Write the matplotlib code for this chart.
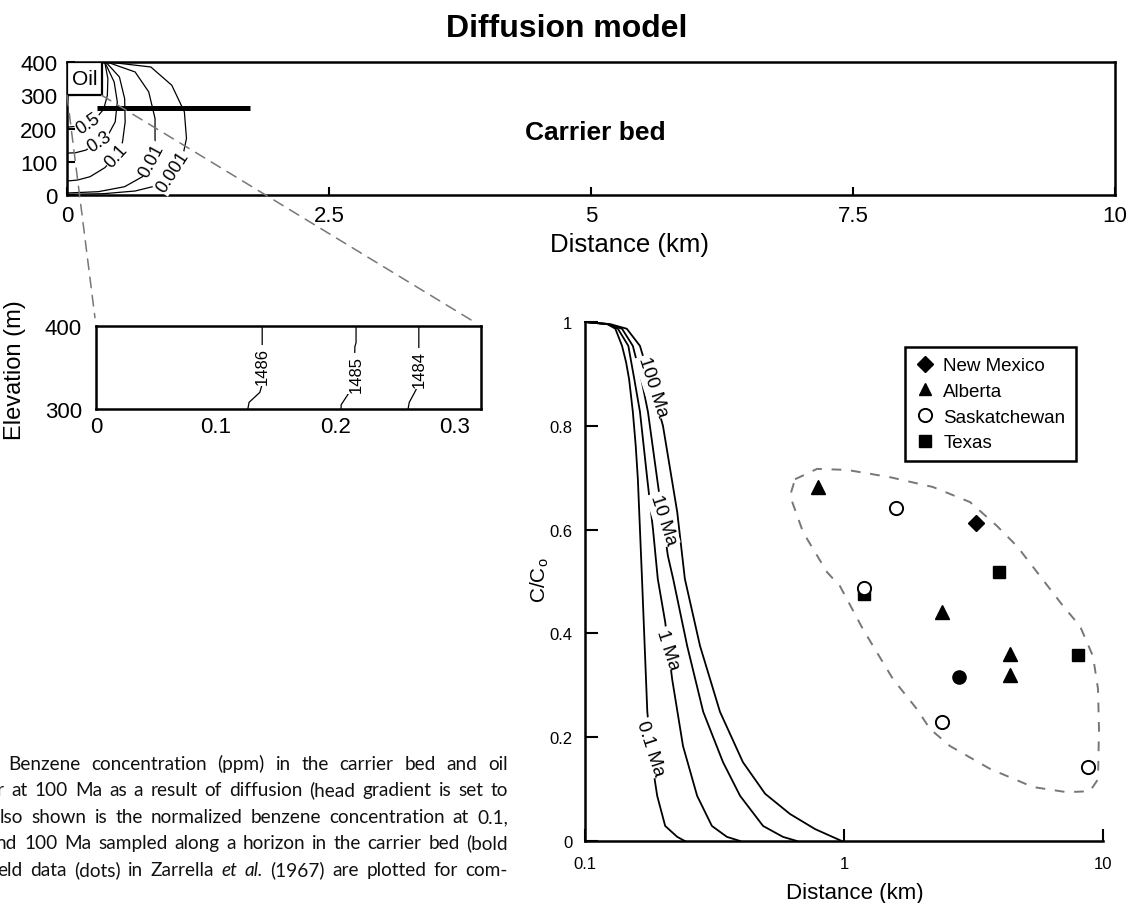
import matplotlib
matplotlib.use('Agg')
import matplotlib.pyplot as plt
from matplotlib.patches import Rectangle, ConnectionPatch, Polygon
from matplotlib.lines import Line2D
from matplotlib.ticker import NullLocator
from matplotlib.transforms import IdentityTransform

plt.rcParams['font.family'] = ['Liberation Sans', 'DejaVu Sans']
plt.rcParams['mathtext.fontset'] = 'custom'
plt.rcParams['mathtext.rm'] = 'Liberation Sans'

W, H = 1133, 904

#%% carrier bed section (distance km, elevation m)
dist_ticks = [0, 2.5, 5, 7.5, 10]
dist_ticklabels = ['0', '2.5', '5', '7.5', '10']
elev_ticks = [0, 100, 200, 300, 400]
oil_w = 0.33
horizon_x = [0.29, 1.75]
horizon_z = [262, 262]

c05_x = [0.36, 0.39, 0.385, 0.35, 0.28, 0.20, 0.10, 0.0]
c05_z = [400, 350, 300, 258, 232, 217, 207, 204]
c03_x = [0.36, 0.45, 0.48, 0.46, 0.40, 0.305, 0.18, 0.08, 0.0]
c03_z = [400, 340, 280, 220, 185, 160, 135, 127, 126]
c01_x = [0.37, 0.50, 0.55, 0.555, 0.53, 0.47, 0.36, 0.22, 0.10, 0.0]
c01_z = [400, 355, 290, 220, 160, 117, 82, 55, 45, 42]
c001_x = [0.38, 0.65, 0.78, 0.84, 0.84, 0.81, 0.72, 0.55, 0.30, 0.0]
c001_z = [400, 370, 310, 230, 160, 105, 55, 25, 10, 6]
c0001_x = [0.39, 0.80, 1.00, 1.12, 1.14, 1.10, 1.01, 0.88, 0.65, 0.35, 0.0]
c0001_z = [400, 385, 330, 250, 170, 110, 69, 30, 12, 4, 2]
conc_labels = ['0.5', '0.3', '0.1', '0.01', '0.001']
conc_lab_x = [0.20, 0.305, 0.47, 0.81, 1.01]
conc_lab_z = [217, 160, 117, 105, 69]
conc_lab_rot = [34, 33, 48, 62, 57]

#%% hydraulic head near the oil (inset)
inset_xticks = [0, 0.1, 0.2, 0.3]
inset_yticks = [300, 400]
h1486_x = [0.139, 0.139, 0.137, 0.128, 0.127]
h1486_z = [400, 330, 320, 308, 300]
h1485_x = [0.2175, 0.2175, 0.2165, 0.216, 0.210, 0.205, 0.205]
h1485_z = [400, 380, 375, 330, 316, 305, 300]
h1484_x = [0.27, 0.27, 0.2665, 0.262, 0.261]
h1484_z = [400, 330, 320, 308, 300]
head_labels = ['1486', '1485', '1484']
head_lab_x = [0.139, 0.2175, 0.27]
head_lab_z = [353, 343, 349]

#%% normalized concentration along the horizon
t01_x = [0.1, 0.122, 0.131, 0.139, 0.144, 0.148, 0.153, 0.157, 0.160, 0.166, 0.174, 0.183, 0.190, 0.204, 0.227, 0.243]
t01_y = [1.0, 0.996, 0.987, 0.954, 0.923, 0.890, 0.827, 0.761, 0.697, 0.505, 0.249, 0.140, 0.087, 0.029, 0.008, 0.0]
t1_x = [0.1, 0.122, 0.134, 0.147, 0.155, 0.163, 0.174, 0.183, 0.191, 0.204, 0.217, 0.239, 0.271, 0.309, 0.353, 0.397]
t1_y = [1.0, 0.996, 0.987, 0.954, 0.890, 0.827, 0.697, 0.601, 0.505, 0.422, 0.312, 0.183, 0.087, 0.029, 0.008, 0.0]
t10_x = [0.1, 0.122, 0.139, 0.153, 0.165, 0.175, 0.190, 0.202, 0.209, 0.219, 0.248, 0.286, 0.341, 0.397, 0.487, 0.581, 0.658]
t10_y = [1.0, 0.996, 0.987, 0.954, 0.890, 0.827, 0.697, 0.601, 0.549, 0.505, 0.376, 0.249, 0.152, 0.087, 0.029, 0.008, 0.0]
t100_x = [0.1, 0.125, 0.145, 0.163, 0.178, 0.200, 0.227, 0.243, 0.278, 0.332, 0.407, 0.496, 0.619, 0.773, 0.98]
t100_y = [1.0, 0.996, 0.987, 0.954, 0.890, 0.800, 0.634, 0.505, 0.376, 0.249, 0.152, 0.091, 0.052, 0.023, 0.0]
age_labels = ['0.1 Ma', '1 Ma', '10 Ma', '100 Ma']
age_lab_x = [0.1785, 0.209, 0.20, 0.183]
age_lab_y = [0.179, 0.37, 0.62, 0.875]

# field data (Zarrella et al., 1967)
nm_x, nm_y = [3.23], [0.613]
ab_x = [0.793, 2.39, 4.375, 4.375]
ab_y = [0.682, 0.441, 0.360, 0.320]
sk_x = [1.588, 1.194, 2.39, 8.75]
sk_y = [0.642, 0.487, 0.229, 0.143]
tx_x = [3.965, 1.194, 8.01]
tx_y = [0.518, 0.476, 0.358]
dot_x, dot_y = [2.78], [0.316]

env_x = [0.647, 0.787, 1.027, 1.505, 2.206, 3.066, 3.896, 4.656, 5.563, 7.008, 8.151, 9.149, 9.566,
         9.65, 9.566, 8.906, 7.26, 5.367, 3.662, 2.566, 2.148, 1.913, 1.546, 1.184, 0.965, 0.860, 0.695, 0.619]
env_y = [0.697, 0.717, 0.715, 0.701, 0.682, 0.653, 0.607, 0.568, 0.518, 0.453, 0.414, 0.356, 0.293,
         0.216, 0.119, 0.096, 0.094, 0.104, 0.139, 0.183, 0.216, 0.254, 0.312, 0.408, 0.491, 0.518, 0.595, 0.665]

age_ticks = [0.1, 1, 10]
age_ticklabels = ['0.1', '1', '10']
ratio_ticks = [0, 0.2, 0.4, 0.6, 0.8, 1]
ratio_ticklabels = ['0', '0.2', '0.4', '0.6', '0.8', '1']

caption = ['Benzene concentration (ppm) in the carrier bed and oil',
           'r at 100 Ma as a result of diffusion (head gradient is set to',
           'lso shown is the normalized benzene concentration at 0.1,',
           'nd 100 Ma sampled along a horizon in the carrier bed (bold',
           'eld data (dots) in Zarrella et al. (1967) are plotted for com-']
caption_x0 = [8, -3, 0, -4, -3]
caption_base = [770, 796.5, 823, 849.5, 876]


def px(x, y):
    return x / W, 1 - y / H


def caption_line(fig, text, x0, x1, base):
    # justified line: words spread between x0 and x1 (pixels)
    r = fig.canvas.get_renderer()
    words = text.split()
    arts = []
    for w in words:
        st = 'italic' if w in ('et', 'al.') else 'normal'
        arts.append(fig.text(0, 0, w, transform=IdentityTransform(), family='Lato',
                             fontsize=13.7, style=st, va='baseline', ha='left', color='#111111'))
    widths = [a.get_window_extent(r).width for a in arts]
    gap = (x1 - x0 - sum(widths)) / (len(words) - 1)
    x = x0
    for a, wd in zip(arts, widths):
        a.set_position((x, H - base))
        x += wd + gap


fig = plt.figure(figsize=(W / 100, H / 100), dpi=100)

#%% top: carrier bed section
ax1 = fig.add_axes([67 / W, 1 - 196 / H, 1048 / W, 133 / H])
ax1.set_xlim(0, 10)
ax1.set_ylim(0, 400)
ax1.set_xticks(dist_ticks)
ax1.set_xticklabels(dist_ticklabels)
ax1.set_yticks(elev_ticks)
ax1.tick_params(direction='in', length=6, width=1.5, labelsize=16)
ax1.tick_params(axis='x', pad=7)
ax1.tick_params(axis='y', pad=7)
for s in ax1.spines.values():
    s.set_linewidth(1.8)

ax1.add_patch(Rectangle((0, 300), oil_w, 100, fc='white', ec='k', lw=1.6, zorder=3))
ax1.text(oil_w / 2, 350, 'Oil', fontsize=15, ha='center', va='center', zorder=4)
ax1.plot(horizon_x, horizon_z, color='k', lw=3.6, solid_capstyle='butt', zorder=5)

for cx, cz in [(c05_x, c05_z), (c03_x, c03_z), (c01_x, c01_z), (c001_x, c001_z), (c0001_x, c0001_z)]:
    ax1.plot(cx, cz, color='k', lw=0.9, zorder=2)
for lab, lx, lz, rot in zip(conc_labels, conc_lab_x, conc_lab_z, conc_lab_rot):
    ax1.text(lx, lz, lab, fontsize=13, rotation=rot, rotation_mode='anchor', ha='center', va='center',
             bbox=dict(fc='white', ec='none', pad=0.5), zorder=4)
ax1.text(5.04, 190, 'Carrier bed', fontsize=19, fontweight='bold', ha='center', va='center')

fig.text(*px(567, 37), 'Diffusion model', fontsize=23, fontweight='bold', ha='center', va='baseline')
fig.text(*px(630, 252), 'Distance (km)', fontsize=18.5, ha='center', va='baseline')
fig.text(*px(15, 370), 'Elevation (m)', fontsize=17, rotation=90, ha='center', va='center')

#%% inset: head near the oil
ax2 = fig.add_axes([96 / W, 1 - 410 / H, 385 / W, 83 / H])
ax2.set_xlim(0, 0.322)
ax2.set_ylim(300, 400)
ax2.set_xticks(inset_xticks)
ax2.set_xticklabels(['0', '0.1', '0.2', '0.3'])
ax2.set_yticks(inset_yticks)
ax2.tick_params(length=0, labelsize=16)
ax2.tick_params(axis='x', pad=5)
ax2.tick_params(axis='y', pad=10)
for s in ax2.spines.values():
    s.set_linewidth(1.8)
for hx, hz in [(h1486_x, h1486_z), (h1485_x, h1485_z), (h1484_x, h1484_z)]:
    ax2.plot(hx, hz, color='k', lw=0.9)
for lab, lx, lz in zip(head_labels, head_lab_x, head_lab_z):
    ax2.text(lx, lz, lab, fontsize=12, rotation=90, ha='center', va='center',
             bbox=dict(fc='white', ec='none', pad=1.5))

for xa, xb in [(0, 0), (oil_w, 0.322)]:
    con = ConnectionPatch(xyA=(xa, 300), coordsA=ax1.transData, xyB=(xb, 400), coordsB=ax2.transData,
                          color='#777777', lw=1.1, ls=(0, (7, 5)), shrinkB=6)
    fig.add_artist(con)

#%% right: C/Co against distance
ax3 = fig.add_axes([585 / W, 1 - 842 / H, 518 / W, 519 / H])
ax3.set_xscale('log')
ax3.set_xlim(0.1, 10)
ax3.set_ylim(0, 1)
ax3.set_xticks(age_ticks)
ax3.set_xticklabels(age_ticklabels)
ax3.xaxis.set_minor_locator(NullLocator())
ax3.set_yticks(ratio_ticks)
ax3.set_yticklabels(ratio_ticklabels)
ax3.tick_params(direction='in', length=9, width=1.5, labelsize=12)
ax3.tick_params(axis='x', pad=11)
ax3.tick_params(axis='y', pad=9)
ax3.spines['top'].set_visible(False)
ax3.spines['right'].set_visible(False)
for s in ['left', 'bottom']:
    ax3.spines[s].set_linewidth(1.8)

for tx, ty in [(t01_x, t01_y), (t1_x, t1_y), (t10_x, t10_y), (t100_x, t100_y)]:
    ax3.plot(tx, ty, color='k', lw=1.3, clip_on=False)
for lab, lx, ly in zip(age_labels, age_lab_x, age_lab_y):
    ax3.text(lx, ly, lab, fontsize=13.5, rotation=-72, rotation_mode='anchor', ha='center', va='center',
             bbox=dict(fc='white', ec='none', pad=1.0))

ax3.add_patch(Polygon(list(zip(env_x, env_y)), closed=True, fill=False, ec='#777777', lw=1.4,
                      ls=(0, (5, 5))))
ms = 9.5
ax3.plot(tx_x, tx_y, 's', color='k', ms=9, ls='none')
ax3.plot(ab_x, ab_y, '^', color='k', ms=9.5, ls='none')
ax3.plot(nm_x, nm_y, 'D', color='k', ms=8, ls='none')
ax3.plot(dot_x, dot_y, 'o', color='k', ms=ms, ls='none')
ax3.plot(sk_x, sk_y, 'o', mfc='white', mec='k', mew=1.4, ms=ms, ls='none')

handles = [Line2D([], [], marker='D', color='k', ls='none', ms=8),
           Line2D([], [], marker='^', color='k', ls='none', ms=9),
           Line2D([], [], marker='o', mfc='white', mec='k', mew=1.4, ls='none', ms=9.5),
           Line2D([], [], marker='s', color='k', ls='none', ms=8.5)]
leg = fig.legend(handles, ['New Mexico', 'Alberta', 'Saskatchewan', 'Texas'], loc='upper left',
                 bbox_to_anchor=px(905, 348), fontsize=13.5, frameon=True, fancybox=False,
                 edgecolor='k', framealpha=1, handlelength=1.0, handletextpad=0.5,
                 labelspacing=0.45, borderpad=0.55, borderaxespad=0)
leg.get_frame().set_linewidth(1.8)

fig.text(*px(855, 899), 'Distance (km)', fontsize=16, ha='center', va='baseline')
fig.text(*px(540, 580), r'C/C$_\mathrm{o}$', fontsize=15, rotation=90, ha='center', va='center')

#%% caption text
for line, x0, base in zip(caption, caption_x0, caption_base):
    caption_line(fig, line, x0, 508, base)

fig.savefig('out.png', dpi=100)
